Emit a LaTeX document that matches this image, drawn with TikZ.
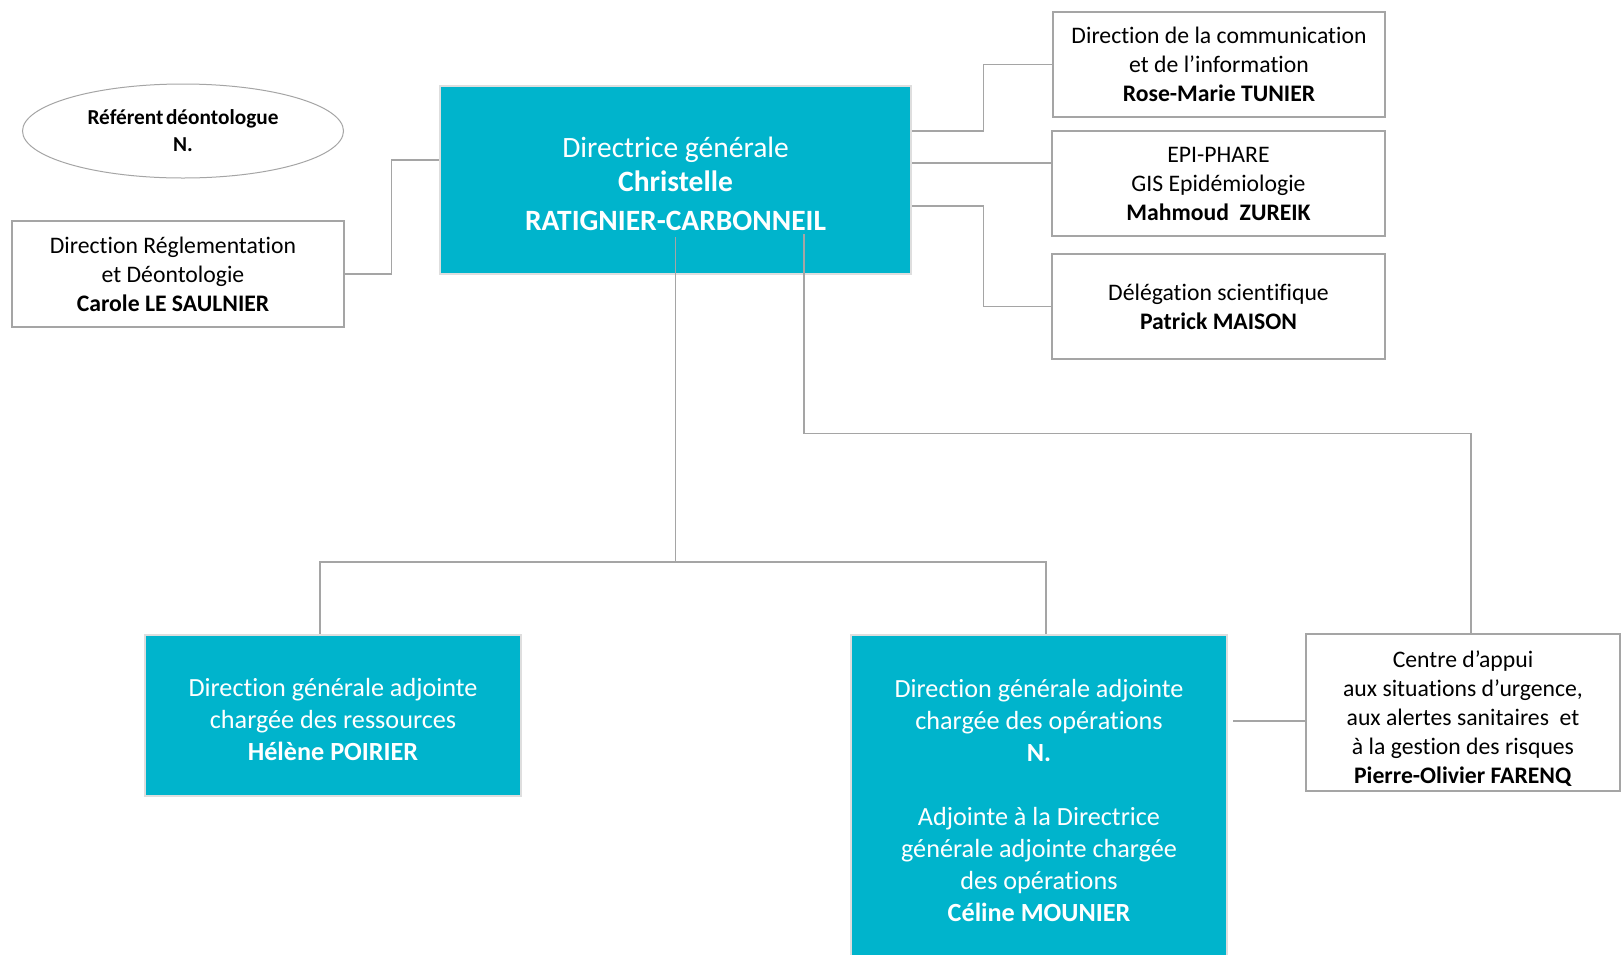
\documentclass[tikz,border=0pt]{standalone}
\usepackage{fontspec}
\setmainfont{Carlito}[Ligatures={NoCommon,NoRequired,NoContextual}, Contextuals=NoAlternate]
\usetikzlibrary{shapes.geometric}
\definecolor{teal1}{RGB}{0,180,204}
\definecolor{linegray}{RGB}{165,165,165}
\definecolor{rimgray}{RGB}{222,222,222}
\tikzset{
  tealbox/.style={draw=rimgray, line width=2.5pt, fill=teal1, text=white, align=center, inner sep=0pt},
  whitebox/.style={draw=linegray, line width=2pt, fill=white, text=black, align=center, inner sep=0pt},
  wtext/.style={text=white, align=center, inner sep=0pt},
  btext/.style={text=black, align=center, inner sep=0pt},
  conn/.style={draw=linegray, line width=1.3pt},
  bigtxt/.style={font=\fontsize{26.2}{32}\selectfont},
  midtxt/.style={font=\fontsize{23.7}{29}\selectfont},
}
\begin{document}
\begin{tikzpicture}[x=1pt,y=-1pt]
\useasboundingbox (0,0) rectangle (1621,954);
\clip (0,0) rectangle (1621,954);
\fill[white] (0,0) rectangle (1621,954);

% main box
\node[tealbox, minimum width=471pt, minimum height=188pt] (main) at (675.5,180) {};
\node[wtext, font=\fontsize{29.5}{34}\selectfont] (mainT) at ([yshift=-4pt]main.center)
  {Directrice générale\\\textbf{Christelle}\\[5pt]\textbf{RATIGNIER-CARBONNEIL}};

% ellipse
\node[ellipse, draw=linegray, line width=1pt, minimum width=321pt, minimum height=94pt, inner sep=0pt, align=center,
  font=\fontsize{21.3}{27}\selectfont\bfseries] (ref) at (183,131) {Référent\hspace{0.12em}déontologue\\N.};

% white boxes
\node[whitebox, minimum width=332pt, minimum height=106pt] (regl) at (178,274) {};
\node[btext, midtxt] (reglT) at ([xshift=-5pt]regl.center)
  {Direction Réglementation\\et Déontologie\\\textbf{Carole LE SAULNIER}};
\node[whitebox, midtxt, minimum width=332pt, minimum height=105pt] (comm) at (1219,64.5)
  {Direction de la communication\\et de l’information\\\textbf{Rose-Marie TUNIER}};
\node[whitebox, midtxt, minimum width=333pt, minimum height=105pt] (epi) at (1218.5,183.5)
  {EPI-PHARE\\GIS Epidémiologie\\\textbf{Mahmoud\ \ ZUREIK}};
\node[whitebox, midtxt, minimum width=333pt, minimum height=105pt] (deleg) at (1218.5,306.5)
  {Délégation scientifique\\\textbf{Patrick MAISON}};
\node[whitebox, minimum width=314pt, minimum height=157pt] (centre) at (1463,712.5) {};
\node[btext, midtxt] (centreT) at ([yshift=-6pt]centre.center)
  {Centre d’appui\\aux situations d’urgence,\\aux alertes sanitaires\ \ et\\à la gestion des risques\\\textbf{Pierre-Olivier FARENQ}};

% lower teal boxes
\node[tealbox, minimum width=376pt, minimum height=161pt] (res) at (333,715.5) {};
\node[wtext, bigtxt] (resT) at ([yshift=-4pt]res.center)
  {Direction générale adjointe\\chargée des ressources\\\textbf{Hélène POIRIER}};
\node[tealbox, bigtxt, minimum width=376pt, minimum height=330pt] (ops) at (1039,800)
  {Direction générale adjointe\\chargée des opérations\\\textbf{N.}\\[32pt]Adjointe à la Directrice\\générale adjointe chargée\\des opérations\\\textbf{Céline MOUNIER}};

% connectors
\draw[conn] ([yshift=20pt]main.west) -- ++(-47,0) |- (regl.east);
\draw[conn] ([yshift=49pt]main.east) -- ++(71,0) |- (comm.west);
\coordinate (c3) at ([yshift=17pt]main.east);
\draw[conn] (c3) -- (c3 -| epi.west);
\draw[conn] ([yshift=-26pt]main.east) -- ++(71,0) |- (deleg.west);

\coordinate (t1) at ([yshift=38pt]main.south);
\coordinate (t2) at (675.5,562);
\draw[conn] (t1) -- (t2);
\draw[conn] ([xshift=-13pt]res.north) |- (t2) -| ([xshift=7pt]ops.north);

\coordinate (u1) at ([xshift=128.5pt,yshift=41pt]main.south);
\draw[conn] (u1) -- ++(0,199) -| ([xshift=8pt]centre.north);

\coordinate (c7) at ([xshift=5pt,yshift=79pt]ops.east);
\draw[conn] (c7) -- (c7 -| centre.west);
\end{tikzpicture}
\end{document}
